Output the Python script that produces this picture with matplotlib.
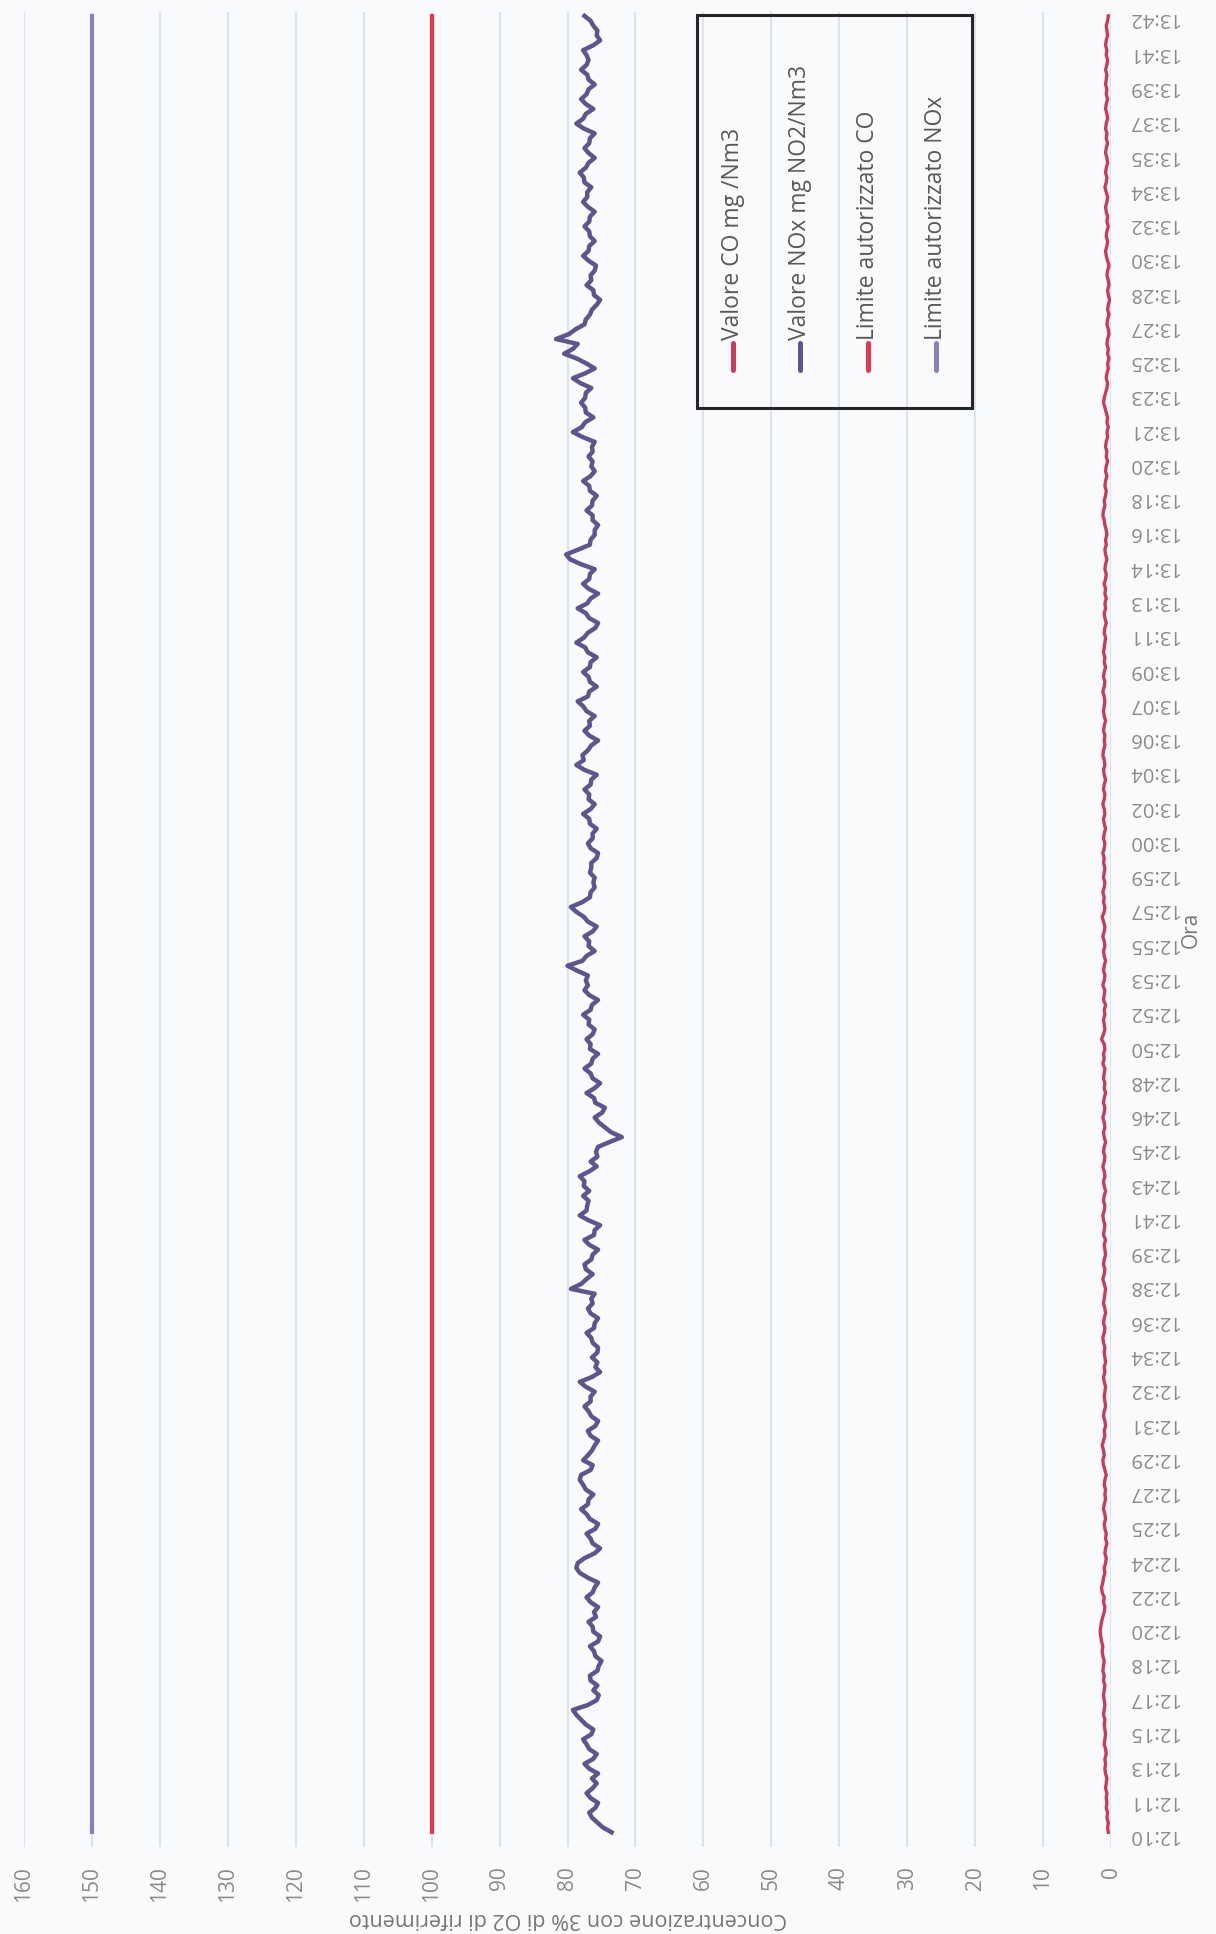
import matplotlib
matplotlib.use("Agg")
import matplotlib.pyplot as plt
from matplotlib.patches import Rectangle
from matplotlib.lines import Line2D

plt.rcParams["font.family"] = ["Open Sans", "DejaVu Sans"]

# etichette dell'asse orario (una ogni 7 campioni da 15 s)
ore = ["12:10", "12:11", "12:13", "12:15", "12:17", "12:18", "12:20", "12:22", "12:24",
       "12:25", "12:27", "12:29", "12:31", "12:32", "12:34", "12:36", "12:38", "12:39",
       "12:41", "12:43", "12:45", "12:46", "12:48", "12:50", "12:52", "12:53", "12:55",
       "12:57", "12:59", "13:00", "13:02", "13:04", "13:06", "13:07", "13:09", "13:11",
       "13:13", "13:14", "13:16", "13:18", "13:20", "13:21", "13:23", "13:25", "13:27",
       "13:28", "13:30", "13:32", "13:34", "13:35", "13:37", "13:39", "13:41", "13:42"]

# NOx mg NO2/Nm3
nox = [
    73.5, 74.8, 75.6, 76.4, 76.8, 75.9, 75.5,
    76.6, 77.2, 76.3, 75.7, 76.4, 75.5, 76.8,
    77.5, 76.2, 75.7, 76.8, 77.2, 77.7, 76.5,
    76.2, 77.3, 78.0, 78.7, 79.2, 77.0, 75.7,
    75.4, 76.2, 75.6, 76.6, 76.7, 75.6, 75.4,
    75.0, 75.9, 76.1, 76.7, 75.5, 75.2, 76.2,
    76.3, 76.9, 75.8, 76.1, 75.5, 76.6, 77.2,
    76.3, 76.0, 75.5, 77.0, 78.2, 78.7, 78.5,
    77.5, 76.0, 75.2, 76.3, 76.6, 77.2, 75.9,
    75.5, 76.7, 77.2, 78.0, 77.0, 76.9, 76.2,
    77.3, 77.7, 78.2, 78.0, 76.6, 76.3, 77.7,
    77.0, 76.4, 76.0, 75.5, 76.6, 77.0, 75.9,
    75.5, 76.5, 76.9, 77.5, 76.6, 76.6, 76.0,
    77.3, 78.2, 76.4, 75.2, 75.9, 75.6, 76.4,
    75.6, 75.5, 76.3, 76.5, 77.2, 76.1, 76.0,
    75.5, 76.6, 77.0, 76.3, 76.5, 76.0, 79.5,
    78.0, 77.2, 76.3, 77.3, 77.5, 76.5, 76.3,
    75.5, 76.8, 77.5, 76.1, 76.0, 75.2, 76.9,
    78.2, 77.2, 77.1, 76.9, 77.7, 76.8, 77.6,
    77.5, 78.2, 76.8, 75.7, 76.6, 75.6, 75.8,
    75.5, 73.8, 72.0, 73.6, 74.5, 75.4, 76.0,
    74.9, 74.5, 75.9, 76.1, 77.2, 76.0, 75.2,
    76.3, 76.6, 77.5, 76.5, 76.3, 75.5, 76.7,
    76.6, 77.2, 76.3, 76.0, 76.9, 76.8, 77.7,
    76.6, 76.4, 75.5, 76.8, 77.5, 77.0, 77.3,
    77.0, 78.6, 80.0, 77.8, 77.2, 76.0, 76.9,
    76.8, 77.5, 76.3, 75.7, 77.0, 77.6, 78.7,
    79.5, 77.8, 76.7, 76.6, 76.0, 76.2, 76.0,
    76.7, 76.5, 76.5, 75.7, 75.5, 76.6, 77.0,
    76.3, 76.3, 75.7, 76.7, 76.8, 77.7, 76.6,
    76.0, 76.9, 76.8, 77.5, 76.6, 76.5, 75.7,
    77.5, 78.7, 77.6, 77.8, 77.0, 76.5, 75.5,
    76.8, 77.5, 76.7, 76.8, 76.0, 77.2, 77.7,
    78.5, 77.0, 76.8, 75.7, 76.7, 76.9, 77.7,
    76.7, 76.6, 75.7, 77.0, 77.4, 78.7, 77.6,
    77.0, 75.9, 75.5, 76.8, 77.3, 78.5, 77.1,
    76.6, 75.5, 76.9, 77.7, 76.8, 76.7, 76.0,
    78.0, 79.6, 80.2, 78.4, 76.7, 76.6, 76.0,
    76.0, 75.5, 76.3, 76.3, 77.2, 76.4, 76.3,
    75.7, 76.7, 76.8, 77.7, 76.6, 76.0, 76.5,
    76.3, 76.9, 76.3, 76.4, 76.0, 77.8, 79.2,
    77.9, 77.4, 76.2, 77.3, 77.4, 78.0, 77.4,
    77.3, 76.5, 78.1, 79.2, 77.4, 76.0, 77.2,
    78.6, 80.5, 79.2, 78.5, 81.7, 79.8, 78.8,
    77.5, 77.3, 76.7, 76.4, 75.7, 75.2, 76.1,
    76.2, 77.2, 76.5, 76.6, 76.0, 75.8, 76.9,
    77.7, 76.9, 76.8, 76.0, 76.7, 76.8, 77.5,
    76.8, 76.7, 76.0, 77.0, 77.7, 77.1, 77.1,
    76.5, 77.5, 77.6, 78.2, 77.3, 76.9, 76.0,
    76.9, 77.5, 76.8, 76.7, 76.0, 77.6, 78.7,
    77.7, 77.3, 76.2, 77.3, 78.0, 77.2, 76.9,
    76.0, 76.9, 77.1, 78.0, 77.2, 76.9, 77.2,
    77.7, 76.2, 75.2, 75.7, 75.6, 76.2, 76.6,
    77.5,
]

# CO mg/Nm3
co = [
    0.4, 0.5, 0.4, 0.6, 0.5, 0.7, 0.6,
    0.7, 0.6, 0.8, 0.7, 0.6, 0.8, 0.9,
    0.8, 0.9, 0.7, 0.8, 1.0, 0.9, 0.8,
    0.9, 1.0, 0.9, 1.1, 1.0, 0.9, 1.0,
    1.1, 1.0, 0.9, 1.1, 1.0, 1.2, 1.1,
    1.0, 1.2, 1.3, 1.2, 1.4, 1.5, 1.6,
    1.5, 1.4, 1.2, 1.0, 0.9, 1.1, 1.0,
    1.3, 1.4, 1.2, 1.1, 0.9, 1.0, 0.8,
    0.7, 0.9, 0.8, 0.6, 0.8, 0.7, 0.9,
    1.0, 0.8, 0.9, 1.1, 1.0, 0.8, 0.9,
    0.8, 1.0, 0.9, 0.7, 0.9, 1.1, 1.2,
    1.0, 1.1, 1.3, 1.1, 0.9, 1.0, 0.8,
    0.9, 1.1, 1.0, 0.8, 0.9, 1.0, 0.9,
    0.8, 1.0, 1.1, 0.9, 1.0, 0.8, 0.9,
    1.0, 0.9, 1.1, 1.2, 1.0, 0.9, 1.1,
    1.0, 0.8, 0.9, 1.1, 1.0, 0.9, 0.8,
    1.0, 1.2, 1.0, 0.9, 1.1, 1.0, 0.8,
    0.9, 1.0, 0.8, 1.1, 1.0, 0.9, 1.1,
    1.2, 1.0, 0.9, 1.1, 1.0, 0.8, 1.0,
    1.1, 0.9, 1.0, 1.2, 1.0, 0.9, 1.1,
    1.0, 0.8, 1.0, 1.1, 0.9, 1.0, 1.2,
    1.0, 0.9, 1.1, 1.0, 0.8, 1.0, 0.9,
    1.1, 1.0, 0.9, 1.2, 1.0, 1.1, 0.9,
    1.0, 1.4, 1.1, 0.9, 1.0, 1.1, 0.9,
    1.0, 0.8, 1.1, 1.0, 0.9, 1.2, 1.0,
    0.9, 1.1, 1.0, 0.8, 1.0, 1.1, 0.9,
    1.0, 1.2, 1.0, 0.9, 1.1, 1.3, 1.0,
    0.9, 1.1, 1.0, 1.2, 1.0, 0.9, 1.1,
    1.0, 0.9, 1.1, 1.0, 1.2, 1.0, 0.9,
    1.1, 1.0, 0.8, 1.0, 1.1, 0.9, 1.0,
    1.2, 1.0, 0.9, 1.1, 1.0, 0.8, 1.0,
    1.1, 0.9, 1.0, 1.2, 1.1, 0.9, 1.0,
    0.9, 1.1, 1.0, 0.8, 1.0, 1.1, 1.0,
    0.9, 1.0, 1.2, 1.0, 0.9, 1.1, 1.0,
    0.8, 1.0, 0.9, 1.1, 1.0, 0.9, 0.8,
    1.0, 0.9, 0.7, 0.9, 1.0, 0.8, 0.9,
    0.7, 0.9, 0.8, 1.0, 0.8, 0.7, 0.9,
    0.8, 0.6, 0.8, 0.9, 0.7, 0.8, 0.6,
    0.7, 0.9, 1.0, 1.2, 1.1, 0.9, 1.0,
    0.8, 0.7, 0.9, 0.8, 0.6, 0.8, 0.7,
    0.5, 0.7, 0.6, 0.8, 0.7, 0.5, 0.6,
    0.4, 0.6, 0.5, 0.7, 0.9, 1.1, 1.0,
    0.8, 0.6, 0.5, 0.7, 0.6, 0.4, 0.5,
    0.3, 0.5, 0.4, 0.6, 0.5, 0.3, 0.4,
    0.6, 0.5, 0.3, 0.5, 0.4, 0.2, 0.4,
    0.5, 0.3, 0.4, 0.6, 0.5, 0.3, 0.5,
    0.7, 0.8, 0.6, 0.5, 0.7, 0.6, 0.4,
    0.6, 0.5, 0.7, 0.8, 0.6, 0.5, 0.7,
    0.9, 0.7, 0.6, 0.8, 0.7, 0.5, 0.6,
    0.8, 0.7, 0.5, 0.7, 0.6, 0.8, 0.7,
    0.5, 0.6, 0.8, 0.7, 0.5, 0.7, 0.6,
    0.8, 0.7, 0.6, 0.8, 0.6, 0.5, 0.7,
    0.6, 0.8, 0.7, 0.5, 0.6, 0.7, 0.5,
    0.4,
]

limite_co = 100
limite_nox = 150

nomi = ["Valore CO mg /Nm3", "Valore NOx mg NO2/Nm3",
        "Limite autorizzato CO", "Limite autorizzato NOx"]
colori = ["#c93a5c", "#5e5590", "#e8374d", "#8c7dc0"]
spessori = [2.4, 3.2, 3.0, 3.0]

W, H = 1216, 1934
sfondo = "#f8fafc"
grigio = "#8a8a8a"

fig = plt.figure(figsize=(W / 100, H / 100), dpi=100, facecolor=sfondo)
# grafico ruotato di 90 gradi: tempo in verticale, concentrazione in orizzontale (0 a destra)
ax = fig.add_axes([24 / W, 1 - 1847 / H, (1111 - 24) / W, (1847 - 12) / H])
ax.set_facecolor(sfondo)

n = len(nox)
idx = list(range(n))
serie = [co, nox, [limite_co] * n, [limite_nox] * n]
for valori, col, lw in zip(serie, colori, spessori):
    ax.plot(valori, idx, color=col, lw=lw, solid_joinstyle="round", zorder=3)

ax.set_xlim(160, 0)
ax.set_ylim(-3, 371.8)

ax.set_xticks(range(0, 161, 10))
ax.tick_params(axis="x", length=0, pad=14, labelsize=15, labelcolor=grigio, labelrotation=90)
ax.grid(axis="x", color="#dde2ec", lw=1.6, zorder=0)

ax.yaxis.tick_right()
ax.set_yticks(range(0, n, 7))
ax.set_yticklabels(ore, rotation=180)
ax.tick_params(axis="y", length=0, pad=12, labelsize=14.5, labelcolor=grigio)

for s in ax.spines.values():
    s.set_visible(False)

ax.set_xlabel("Concentrazione con 3% di O2 di riferimento", rotation=180,
              fontsize=15.5, color="#777777", labelpad=4)
ax.yaxis.set_label_position("right")
ax.set_ylabel("Ora", rotation=90, fontsize=15, color="#777777", labelpad=1)

# legenda disegnata a mano, ruotata come il resto del grafico
fig.add_artist(Rectangle((697 / W, 1 - 408 / H), 275 / W, 393 / H,
                         transform=fig.transFigure, fill=False, ec="#262626", lw=2.2))
for k, (nome, col) in enumerate(zip(nomi, colori)):
    xk = (733 + k * 67.5) / W
    fig.add_artist(Line2D([xk, xk], [1 - 370 / H, 1 - 343 / H], color=col, lw=3.6,
                          transform=fig.transFigure, solid_capstyle="round"))
    fig.text(xk, 1 - 340 / H, nome, rotation=90, ha="center", va="bottom",
             fontsize=16.5, color="#595959")

fig.savefig("out.png", dpi=100, facecolor=sfondo)
